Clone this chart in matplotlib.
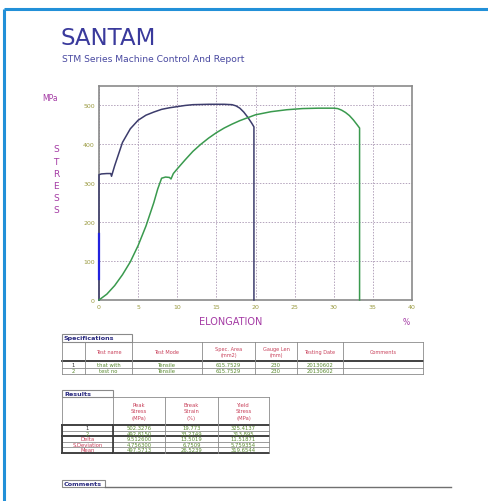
import matplotlib
matplotlib.use("Agg")
import matplotlib.pyplot as plt
from matplotlib.patches import Rectangle

plt.rcParams.update({
    'font.family': 'DejaVu Sans',
})

# ---- data -------------------------------------------------------------
# test 1 (dark curve)
elong_1 = [0, 0, 0.3, 1.0, 1.5, 1.6, 2.0, 2.5, 3.0, 4.0, 5.0, 6.0, 7.0, 8.0,
           9.0, 10.0, 11.0, 12.0, 14.0, 16.0, 17.0, 17.5, 18.0, 18.5, 19.0,
           19.5, 19.8, 19.8]
stress_1 = [0, 322, 324, 325, 325, 318, 345, 375, 405, 440, 462, 475, 483, 490,
            494, 497, 500, 502, 503, 503, 502, 499, 493, 483, 470,
            455, 445, 0]
# bright elastic segment of test 1
elastic_x = [0, 0]
elastic_y = [55, 170]

# test 2 (green curve)
elong_2 = [0, 1, 2, 3, 4, 5, 6, 7, 7.5, 8.0, 8.5, 9.0, 9.2, 9.5, 10, 11, 12,
           13, 14, 15, 16, 17, 18, 20, 22, 24, 26, 28, 30, 30.5, 31, 31.5, 32,
           32.5, 33.0, 33.3, 33.3]
stress_2 = [0, 15, 37, 65, 98, 140, 190, 250, 285, 313, 316, 315, 311, 325,
            337, 360, 382, 400, 416, 430, 442, 452, 461, 476, 484, 489, 492,
            493, 493, 492, 488, 482, 474, 463, 450, 442, 0]

x_ticks = [0, 5, 10, 15, 20, 25, 30, 35, 40]
y_ticks = [0, 100, 200, 300, 400, 500]

spec_header = ["", "Test name", "Test Mode", "Spec. Area\n(mm2)",
               "Gauge Len\n(mm)", "Testing Date", "Comments"]
spec_rows = [["1", "that with", "Tensile", "615.7529", "230", "20130602", ""],
             ["2", "test no", "Tensile", "615.7529", "230", "20130602", ""]]

res_header = ["", "Peak\nStress\n(MPa)", "Break\nStrain\n(%)", "Yield\nStress\n(MPa)"]
res_labels = ["1", "2", "Delta", "S.Deviation", "Mean"]
peak_stress = ["502.3276", "492.8150", "9.512600", "4.756300", "497.5713"]
break_strain = ["19.773", "33.2749", "13.5019", "6.7509", "26.5239"]
yield_stress = ["325.4137", "313.895", "11.51871", "5.759354", "319.6544"]

# ---- colours ----------------------------------------------------------
BLUE_FRAME = '#2290d8'
TITLE = '#3a3a9c'
PURPLE = '#a43aa4'
OLIVE = '#9a9a40'
RED = '#c8405a'
GREEN_TXT = '#5a8a30'
GRID = '#b4a4bc'
BORDER = '#8a8a8a'

W, H = 489, 502
fig = plt.figure(figsize=(W / 100, H / 100), dpi=100)
fig.patch.set_facecolor('white')

page = fig.add_axes([0, 0, 1, 1])
page.set_xlim(0, W)
page.set_ylim(H, 0)
page.axis('off')

# page frame
page.plot([4, W], [10, 10], color=BLUE_FRAME, lw=2.2, solid_capstyle='butt')
page.plot([4, 4], [10, H], color=BLUE_FRAME, lw=2.2, solid_capstyle='butt')

page.text(61, 45, "SANTAM", fontsize=16.5, color=TITLE, va='baseline')
page.text(62, 62, "STM Series Machine Control And Report", fontsize=6.6,
          color='#4848a0', va='baseline')

# axis labels around chart
page.text(42, 101, "MPa", fontsize=5.5, color=PURPLE, va='baseline')
for i, ch in enumerate("STRESS"):
    page.text(56, 150 + i * 12.2, ch, fontsize=6.5, color=PURPLE,
              ha='center', va='center')
page.text(231, 322, "ELONGATION", fontsize=7, color=PURPLE,
          ha='center', va='center')
page.text(406, 323, "%", fontsize=5.5, color=PURPLE, ha='center', va='center')

# ---- chart ------------------------------------------------------------
ax = fig.add_axes([99 / W, 1 - 301 / H, (412 - 99) / W, (301 - 87) / H])
ax.plot(elong_1, stress_1, color='#3c3c6c', lw=1.1, clip_on=False, zorder=4)
ax.plot(elastic_x, elastic_y, color='#2222dd', lw=1.6, clip_on=False, zorder=5)
ax.plot(elong_2, stress_2, color='#3a9a4e', lw=1.1, clip_on=False, zorder=4)
ax.set_xlim(0, 40)
ax.set_ylim(0, 550)
ax.set_xticks(x_ticks)
ax.set_yticks(y_ticks)
ax.tick_params(length=0, labelsize=4.5, labelcolor=OLIVE, pad=3)
ax.grid(True, linestyle=(0, (1.5, 1.5)), color=GRID, lw=0.7)
for sp in ax.spines.values():
    sp.set_color(BORDER)
    sp.set_linewidth(1.2)


# ---- tables -----------------------------------------------------------
def draw_grid(cols, rows, thick_rows=(), thick_cols=()):
    for y in rows:
        lw = 1.3 if y in thick_rows else 0.6
        c = '#333333' if y in thick_rows else BORDER
        page.plot([cols[0], cols[-1]], [y, y], color=c, lw=lw)
    for x in cols:
        page.plot([x, x], [rows[0], rows[-1]], color=BORDER, lw=0.6)
    for x, y0, y1 in thick_cols:
        page.plot([x, x], [y0, y1], color='#333333', lw=1.2)


def caption_box(x0, x1, y0, y1, text):
    page.add_patch(Rectangle((x0, y0), x1 - x0, y1 - y0, fill=False,
                             edgecolor=BORDER, lw=0.8))
    page.text(x0 + 2, (y0 + y1) / 2, text, fontsize=4.6, color='#2a2a80',
              fontweight='bold', va='center')


# specifications
caption_box(62, 132, 335, 343, "Specifications")
spec_cols = [62, 85, 132, 202, 255, 297, 343, 423]
spec_rows_y = [343, 362, 368.5, 375]
draw_grid(spec_cols, spec_rows_y, thick_rows=(362,))
for i, txt in enumerate(spec_header):
    xc = (spec_cols[i] + spec_cols[i + 1]) / 2
    page.text(xc, 352.5, txt, fontsize=3.6, color=RED, ha='center',
              va='center', linespacing=1.3)
for r, row in enumerate(spec_rows):
    yc = (spec_rows_y[r + 1] + spec_rows_y[r + 2]) / 2
    for i, txt in enumerate(row):
        xc = (spec_cols[i] + spec_cols[i + 1]) / 2
        col = '#333333' if i == 0 and r == 0 else GREEN_TXT
        page.text(xc, yc, txt, fontsize=3.8, color=col, ha='center', va='center')

# results
caption_box(62, 113, 391, 398, "Results")
res_cols = [62, 113, 165, 218, 269]
res_rows_y = [398, 426, 431.5, 437, 442.5, 448, 453.5]
draw_grid(res_cols, res_rows_y, thick_rows=(426, 437, 453.5),
          thick_cols=[(62, 426, 453.5), (113, 426, 453.5)])
for i, txt in enumerate(res_header):
    xc = (res_cols[i] + res_cols[i + 1]) / 2
    page.text(xc, 412, txt, fontsize=3.8, color=RED, ha='center',
              va='center', linespacing=1.35)
label_colors = ['#333333', GREEN_TXT, RED, RED, RED]
for r in range(len(res_labels)):
    yc = (res_rows_y[r + 1] + res_rows_y[r + 2]) / 2
    page.text(87.5, yc, res_labels[r], fontsize=3.8, color=label_colors[r],
              ha='center', va='center')
    for i, vals in enumerate([peak_stress, break_strain, yield_stress]):
        xc = (res_cols[i + 1] + res_cols[i + 2]) / 2
        page.text(xc, yc, vals[r], fontsize=3.8, color=GREEN_TXT,
                  ha='center', va='center')

# comments
caption_box(62, 105, 481, 487.5, "Comments")
page.plot([105, 451], [487.5, 487.5], color='#707070', lw=1.0)

fig.savefig("out.png", dpi=100)
